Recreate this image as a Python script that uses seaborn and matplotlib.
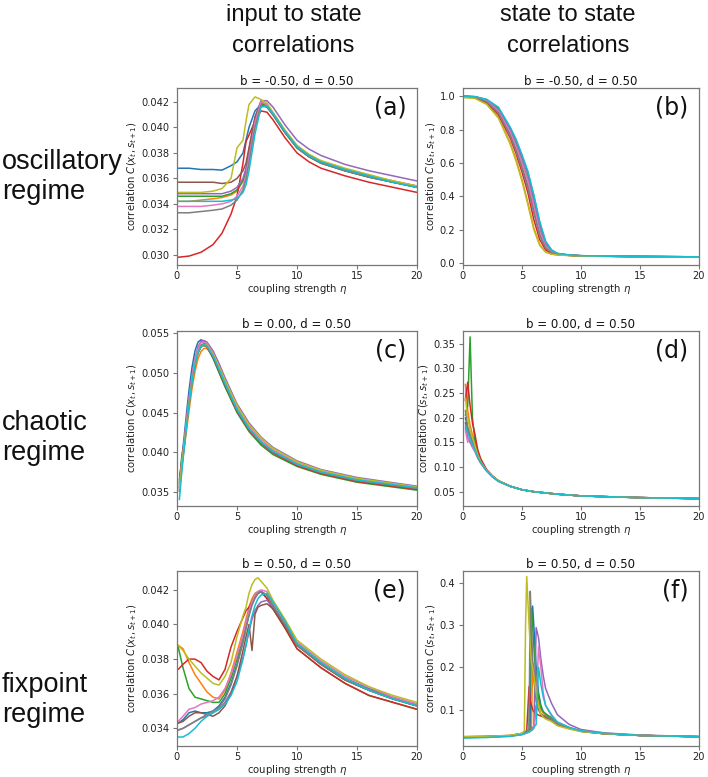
import numpy as np
import pandas as pd
import matplotlib
matplotlib.use("Agg")
import matplotlib.pyplot as plt
from matplotlib.ticker import FormatStrFormatter, FixedLocator
import seaborn as sns

# ---------------- data ----------------
runs = ["r0", "r1", "r2", "r3", "r4", "r5", "r6", "r7", "r8", "r9"]
colors = ["#1f77b4", "#ff7f0e", "#2ca02c", "#d62728", "#9467bd",
          "#8c564b", "#e377c2", "#7f7f7f", "#bcbd22", "#17becf"]

# (a) oscillatory, input to state
eta_a = [0, 1, 2, 3, 3.75, 4.5, 5, 5.5, 5.75, 6, 6.5, 7, 7.5, 8, 9, 10, 11, 12, 14, 16, 18, 20]
curves_a = [
    [0.0368, 0.0368, 0.0367, 0.0367, 0.03665, 0.0370, 0.0373, 0.0380, 0.0390, 0.0400, 0.0413, 0.0418, 0.0416, 0.0410, 0.0396, 0.0384, 0.0377, 0.0372, 0.0366, 0.0361, 0.0357, 0.0353],
    [0.0342, 0.0342, 0.0343, 0.0344, 0.0345, 0.0347, 0.0350, 0.0358, 0.0366, 0.0380, 0.0406, 0.0419, 0.0417, 0.0411, 0.0397, 0.0385, 0.0378, 0.0373, 0.0367, 0.0362, 0.0358, 0.0354],
    [0.0346, 0.0346, 0.0346, 0.0346, 0.0346, 0.0348, 0.0351, 0.0358, 0.0365, 0.0378, 0.0404, 0.0419, 0.0417, 0.0410, 0.0396, 0.0384, 0.0377, 0.0372, 0.0366, 0.0361, 0.0357, 0.0353],
    [0.0298, 0.0299, 0.0302, 0.0308, 0.0317, 0.0332, 0.0346, 0.0372, 0.0389, 0.0394, 0.0405, 0.0413, 0.0412, 0.0406, 0.0392, 0.0380, 0.0373, 0.0368, 0.0362, 0.0357, 0.0353, 0.0349],
    [0.0348, 0.0348, 0.0348, 0.0348, 0.0348, 0.0350, 0.0353, 0.0360, 0.0368, 0.0382, 0.0408, 0.0421, 0.0421, 0.0416, 0.0402, 0.0390, 0.0383, 0.0378, 0.0371, 0.0366, 0.0362, 0.0358],
    [0.0357, 0.0357, 0.0357, 0.0357, 0.0356, 0.0357, 0.0360, 0.0366, 0.0372, 0.0384, 0.0408, 0.0420, 0.0418, 0.0411, 0.0397, 0.0385, 0.0378, 0.0373, 0.0367, 0.0362, 0.0357, 0.0354],
    [0.0338, 0.0338, 0.0338, 0.0339, 0.0340, 0.0342, 0.0346, 0.0354, 0.0362, 0.0376, 0.0404, 0.0420, 0.0418, 0.0411, 0.0397, 0.0385, 0.0378, 0.0373, 0.0367, 0.0362, 0.0358, 0.0354],
    [0.0333, 0.0333, 0.0334, 0.0335, 0.0336, 0.0339, 0.0343, 0.0351, 0.0359, 0.0372, 0.0400, 0.0417, 0.0416, 0.0410, 0.0396, 0.0384, 0.0377, 0.0372, 0.0366, 0.0361, 0.0357, 0.0353],
    [0.0349, 0.0349, 0.0349, 0.0350, 0.0352, 0.0360, 0.0384, 0.0390, 0.0405, 0.0418, 0.0424, 0.0422, 0.0419, 0.0412, 0.0398, 0.0386, 0.0379, 0.0374, 0.0368, 0.0363, 0.0358, 0.0354],
    [0.0342, 0.0342, 0.0342, 0.0342, 0.0342, 0.0343, 0.0344, 0.0349, 0.0355, 0.0366, 0.0395, 0.0416, 0.0417, 0.0411, 0.0397, 0.0385, 0.0378, 0.0373, 0.0367, 0.0362, 0.0357, 0.0353],
]

# (b) oscillatory, state to state
eta_b = [0, 1, 2, 3, 4, 4.5, 5, 5.5, 6, 6.5, 7, 7.5, 8, 9, 10, 12, 15, 20]
curves_b = [
    [1.0, 0.998, 0.980, 0.930, 0.810, 0.735, 0.640, 0.540, 0.400, 0.240, 0.125, 0.076, 0.056, 0.047, 0.043, 0.040, 0.038, 0.036],
    [0.995, 0.990, 0.955, 0.875, 0.720, 0.620, 0.500, 0.360, 0.210, 0.110, 0.066, 0.053, 0.048, 0.044, 0.041, 0.039, 0.037, 0.035],
    [1.0, 0.997, 0.975, 0.915, 0.790, 0.705, 0.605, 0.500, 0.350, 0.200, 0.105, 0.068, 0.053, 0.046, 0.042, 0.040, 0.038, 0.036],
    [0.998, 0.993, 0.963, 0.890, 0.750, 0.655, 0.545, 0.420, 0.260, 0.140, 0.078, 0.058, 0.050, 0.045, 0.042, 0.040, 0.037, 0.036],
    [1.0, 0.998, 0.978, 0.925, 0.800, 0.725, 0.630, 0.530, 0.385, 0.230, 0.120, 0.074, 0.055, 0.047, 0.043, 0.040, 0.038, 0.036],
    [1.0, 0.996, 0.970, 0.905, 0.770, 0.680, 0.575, 0.460, 0.310, 0.170, 0.090, 0.062, 0.051, 0.045, 0.042, 0.040, 0.038, 0.036],
    [1.0, 0.997, 0.974, 0.912, 0.785, 0.698, 0.598, 0.490, 0.340, 0.190, 0.100, 0.066, 0.052, 0.046, 0.042, 0.040, 0.038, 0.036],
    [1.0, 0.996, 0.968, 0.900, 0.762, 0.670, 0.565, 0.450, 0.300, 0.165, 0.088, 0.061, 0.051, 0.045, 0.042, 0.040, 0.038, 0.036],
    [0.993, 0.988, 0.952, 0.870, 0.712, 0.610, 0.490, 0.350, 0.200, 0.105, 0.064, 0.052, 0.047, 0.044, 0.041, 0.039, 0.037, 0.035],
    [1.0, 0.998, 0.982, 0.935, 0.815, 0.742, 0.650, 0.550, 0.410, 0.250, 0.130, 0.078, 0.057, 0.047, 0.043, 0.040, 0.038, 0.036],
]

# (c) chaotic, input to state
eta_c = [0.2, 0.4, 0.6, 0.8, 1.0, 1.25, 1.5, 1.75, 2.0, 2.25, 2.5, 3, 3.5, 4, 5, 6, 7, 8, 10, 12, 15, 20]
curves_c = [
    [0.0360, 0.0392, 0.0420, 0.0450, 0.0478, 0.0507, 0.0528, 0.0539, 0.0542, 0.0540, 0.0534, 0.0519, 0.0501, 0.0483, 0.0451, 0.0428, 0.0412, 0.0400, 0.0384, 0.0374, 0.0364, 0.0354],
    [0.0358, 0.0383, 0.0405, 0.0428, 0.0452, 0.0480, 0.0502, 0.0518, 0.0527, 0.0531, 0.0531, 0.0521, 0.0504, 0.0486, 0.0453, 0.0429, 0.0412, 0.0400, 0.0384, 0.0374, 0.0364, 0.0354],
    [0.0362, 0.0395, 0.0412, 0.0436, 0.0460, 0.0488, 0.0510, 0.0525, 0.0533, 0.0535, 0.0533, 0.0519, 0.0501, 0.0483, 0.0450, 0.0426, 0.0409, 0.0397, 0.0382, 0.0372, 0.0362, 0.0352],
    [0.0365, 0.0388, 0.0412, 0.0440, 0.0465, 0.0492, 0.0513, 0.0527, 0.0533, 0.0535, 0.0533, 0.0520, 0.0503, 0.0485, 0.0452, 0.0428, 0.0411, 0.0399, 0.0383, 0.0373, 0.0363, 0.0353],
    [0.0352, 0.0384, 0.0411, 0.0440, 0.0467, 0.0496, 0.0519, 0.0533, 0.0540, 0.0541, 0.0539, 0.0528, 0.0512, 0.0494, 0.0461, 0.0437, 0.0419, 0.0406, 0.0389, 0.0378, 0.0368, 0.0357],
    [0.0355, 0.0385, 0.0410, 0.0437, 0.0462, 0.0490, 0.0512, 0.0527, 0.0535, 0.0537, 0.0535, 0.0522, 0.0505, 0.0487, 0.0454, 0.0430, 0.0413, 0.0401, 0.0385, 0.0375, 0.0365, 0.0355],
    [0.0356, 0.0387, 0.0413, 0.0441, 0.0467, 0.0495, 0.0517, 0.0531, 0.0538, 0.0539, 0.0537, 0.0525, 0.0508, 0.0490, 0.0457, 0.0433, 0.0416, 0.0403, 0.0387, 0.0377, 0.0366, 0.0356],
    [0.0350, 0.0380, 0.0407, 0.0435, 0.0460, 0.0488, 0.0510, 0.0525, 0.0533, 0.0535, 0.0533, 0.0521, 0.0504, 0.0486, 0.0453, 0.0429, 0.0412, 0.0400, 0.0384, 0.0374, 0.0364, 0.0354],
    [0.0354, 0.0384, 0.0409, 0.0436, 0.0461, 0.0489, 0.0511, 0.0526, 0.0534, 0.0536, 0.0535, 0.0524, 0.0508, 0.0491, 0.0459, 0.0435, 0.0418, 0.0405, 0.0388, 0.0377, 0.0367, 0.0356],
    [0.0340, 0.0375, 0.0405, 0.0434, 0.0460, 0.0489, 0.0511, 0.0526, 0.0534, 0.0536, 0.0534, 0.0522, 0.0505, 0.0487, 0.0454, 0.0430, 0.0413, 0.0401, 0.0385, 0.0375, 0.0365, 0.0355],
]

# (d) chaotic, state to state
eta_d = [0.2, 0.4, 0.6, 0.8, 1.0, 1.25, 1.5, 2, 2.5, 3, 4, 5, 6, 8, 10, 12, 15, 20]
curves_d = [
    [0.200, 0.180, 0.165, 0.152, 0.140, 0.124, 0.111, 0.093, 0.081, 0.072, 0.061, 0.054, 0.050, 0.045, 0.0415, 0.040, 0.038, 0.036],
    [0.268, 0.215, 0.185, 0.165, 0.150, 0.128, 0.113, 0.094, 0.081, 0.072, 0.061, 0.054, 0.050, 0.045, 0.0415, 0.040, 0.038, 0.036],
    [0.205, 0.225, 0.364, 0.200, 0.155, 0.128, 0.112, 0.093, 0.081, 0.072, 0.061, 0.054, 0.050, 0.045, 0.0415, 0.040, 0.038, 0.036],
    [0.235, 0.272, 0.225, 0.190, 0.168, 0.135, 0.117, 0.095, 0.082, 0.072, 0.061, 0.054, 0.050, 0.045, 0.0415, 0.040, 0.038, 0.036],
    [0.180, 0.160, 0.150, 0.140, 0.132, 0.118, 0.108, 0.092, 0.080, 0.071, 0.061, 0.054, 0.050, 0.045, 0.0415, 0.040, 0.038, 0.036],
    [0.190, 0.175, 0.160, 0.150, 0.138, 0.122, 0.110, 0.093, 0.081, 0.072, 0.061, 0.054, 0.050, 0.045, 0.0415, 0.040, 0.038, 0.036],
    [0.175, 0.150, 0.162, 0.142, 0.133, 0.119, 0.108, 0.092, 0.080, 0.071, 0.061, 0.054, 0.050, 0.045, 0.0415, 0.040, 0.038, 0.036],
    [0.215, 0.180, 0.165, 0.152, 0.140, 0.123, 0.110, 0.093, 0.081, 0.072, 0.061, 0.054, 0.050, 0.045, 0.0415, 0.040, 0.038, 0.036],
    [0.240, 0.200, 0.175, 0.160, 0.145, 0.125, 0.111, 0.093, 0.081, 0.072, 0.061, 0.054, 0.050, 0.045, 0.0415, 0.040, 0.038, 0.036],
    [0.185, 0.170, 0.157, 0.146, 0.136, 0.120, 0.109, 0.092, 0.080, 0.071, 0.061, 0.054, 0.050, 0.045, 0.0415, 0.040, 0.038, 0.036],
]

# (e) fixpoint, input to state
eta_e = [0.1, 0.5, 1, 1.5, 2, 2.5, 3, 3.5, 4, 4.5, 5, 5.5, 5.75, 6, 6.25, 6.5, 6.75, 7,
         7.5, 8, 9, 10, 12, 14, 16, 18, 20]
curves_e = [
    [0.0343, 0.0345, 0.0349, 0.0350, 0.0349, 0.0349, 0.0350, 0.0353, 0.0358, 0.0366, 0.0377, 0.0390, 0.0398, 0.0406, 0.0412, 0.0416, 0.0418, 0.0419, 0.0417, 0.0411, 0.0400, 0.0388, 0.0377, 0.0368, 0.0362, 0.0357, 0.0353],
    [0.0388, 0.0386, 0.0378, 0.0371, 0.0366, 0.0361, 0.0358, 0.0357, 0.0362, 0.0372, 0.0384, 0.0396, 0.0403, 0.0410, 0.0415, 0.0418, 0.0419, 0.0419, 0.0417, 0.0411, 0.0400, 0.0388, 0.0377, 0.0368, 0.0362, 0.0357, 0.0353],
    [0.0387, 0.0375, 0.0363, 0.0358, 0.0357, 0.0356, 0.0355, 0.0355, 0.0360, 0.0369, 0.0380, 0.0392, 0.0400, 0.0408, 0.0413, 0.0417, 0.0419, 0.0419, 0.0415, 0.0409, 0.0398, 0.0386, 0.0375, 0.0366, 0.0359, 0.0355, 0.0351],
    [0.0374, 0.0377, 0.0380, 0.0380, 0.0378, 0.0373, 0.0370, 0.0368, 0.0374, 0.0387, 0.0396, 0.0404, 0.0408, 0.0410, 0.0413, 0.0416, 0.0418, 0.0419, 0.0415, 0.0409, 0.0398, 0.0386, 0.0375, 0.0366, 0.0359, 0.0355, 0.0351],
    [0.0339, 0.0340, 0.0342, 0.0344, 0.0346, 0.0347, 0.0349, 0.0351, 0.0355, 0.0361, 0.0370, 0.0381, 0.0388, 0.0396, 0.0403, 0.0408, 0.0411, 0.0413, 0.0414, 0.0410, 0.0400, 0.0389, 0.0378, 0.0369, 0.0363, 0.0358, 0.0354],
    [0.0343, 0.0344, 0.0347, 0.0349, 0.0349, 0.0348, 0.0347, 0.0349, 0.0353, 0.0360, 0.0370, 0.0385, 0.0393, 0.0400, 0.0385, 0.0406, 0.0410, 0.0411, 0.0412, 0.0409, 0.0399, 0.0388, 0.0377, 0.0368, 0.0362, 0.0357, 0.0353],
    [0.0344, 0.0347, 0.0351, 0.0352, 0.0354, 0.0355, 0.0356, 0.0358, 0.0363, 0.0371, 0.0382, 0.0394, 0.0401, 0.0408, 0.0413, 0.0417, 0.0419, 0.0420, 0.0419, 0.0413, 0.0402, 0.0390, 0.0379, 0.0370, 0.0364, 0.0358, 0.0354],
    [0.0339, 0.0340, 0.0342, 0.0344, 0.0346, 0.0348, 0.0350, 0.0352, 0.0357, 0.0365, 0.0376, 0.0390, 0.0398, 0.0405, 0.0411, 0.0415, 0.0418, 0.0419, 0.0417, 0.0411, 0.0400, 0.0388, 0.0377, 0.0368, 0.0362, 0.0357, 0.0353],
    [0.0388, 0.0385, 0.0380, 0.0376, 0.0372, 0.0369, 0.0366, 0.0365, 0.0370, 0.0378, 0.0393, 0.0405, 0.0410, 0.0418, 0.0423, 0.0426, 0.0427, 0.0425, 0.0421, 0.0414, 0.0403, 0.0391, 0.0380, 0.0371, 0.0364, 0.0359, 0.0355],
    [0.0335, 0.0335, 0.0337, 0.0340, 0.0344, 0.0347, 0.0349, 0.0351, 0.0354, 0.0359, 0.0367, 0.0380, 0.0388, 0.0397, 0.0405, 0.0411, 0.0415, 0.0417, 0.0418, 0.0413, 0.0402, 0.0389, 0.0378, 0.0369, 0.0362, 0.0357, 0.0353],
]

# (f) fixpoint, state to state
eta_f = [0, 2, 4, 5, 5.2, 5.3, 5.4, 5.6, 5.7, 5.8, 5.9, 6.0, 6.2, 6.4, 6.6, 6.8, 7,
         7.5, 8, 9, 10, 12, 15, 20]
curves_f = [
    [0.034, 0.035, 0.038, 0.042, 0.045, 0.046, 0.047, 0.050, 0.055, 0.300, 0.345, 0.300, 0.200, 0.140, 0.110, 0.095, 0.090, 0.080, 0.067, 0.057, 0.049, 0.043, 0.039, 0.036],
    [0.035, 0.036, 0.038, 0.043, 0.045, 0.046, 0.048, 0.050, 0.053, 0.057, 0.210, 0.200, 0.160, 0.120, 0.100, 0.092, 0.088, 0.078, 0.066, 0.056, 0.049, 0.043, 0.039, 0.036],
    [0.035, 0.036, 0.038, 0.043, 0.045, 0.047, 0.049, 0.052, 0.250, 0.340, 0.300, 0.250, 0.170, 0.130, 0.105, 0.095, 0.090, 0.080, 0.067, 0.057, 0.049, 0.043, 0.039, 0.036],
    [0.036, 0.037, 0.039, 0.044, 0.046, 0.048, 0.050, 0.155, 0.120, 0.110, 0.100, 0.095, 0.090, 0.087, 0.085, 0.083, 0.082, 0.076, 0.065, 0.056, 0.049, 0.043, 0.039, 0.036],
    [0.034, 0.035, 0.037, 0.041, 0.043, 0.044, 0.045, 0.047, 0.049, 0.051, 0.053, 0.056, 0.294, 0.270, 0.220, 0.180, 0.150, 0.115, 0.088, 0.065, 0.053, 0.045, 0.040, 0.036],
    [0.035, 0.036, 0.038, 0.043, 0.045, 0.046, 0.048, 0.050, 0.052, 0.055, 0.058, 0.060, 0.110, 0.100, 0.090, 0.085, 0.082, 0.076, 0.065, 0.056, 0.049, 0.043, 0.039, 0.036],
    [0.035, 0.036, 0.038, 0.042, 0.044, 0.045, 0.046, 0.048, 0.050, 0.052, 0.056, 0.062, 0.100, 0.250, 0.200, 0.140, 0.110, 0.085, 0.070, 0.058, 0.050, 0.044, 0.039, 0.036],
    [0.035, 0.036, 0.038, 0.043, 0.046, 0.048, 0.050, 0.052, 0.380, 0.300, 0.220, 0.170, 0.120, 0.100, 0.090, 0.087, 0.085, 0.077, 0.066, 0.056, 0.049, 0.043, 0.039, 0.036],
    [0.036, 0.037, 0.039, 0.044, 0.050, 0.300, 0.415, 0.300, 0.250, 0.210, 0.200, 0.180, 0.140, 0.110, 0.090, 0.082, 0.078, 0.072, 0.062, 0.054, 0.048, 0.043, 0.039, 0.036],
    [0.033, 0.034, 0.037, 0.041, 0.043, 0.044, 0.045, 0.047, 0.049, 0.051, 0.053, 0.058, 0.065, 0.200, 0.160, 0.130, 0.110, 0.088, 0.071, 0.058, 0.050, 0.044, 0.039, 0.036],
]

titles = ["b = -0.50, d = 0.50", "b = -0.50, d = 0.50",
          "b = 0.00, d = 0.50", "b = 0.00, d = 0.50",
          "b = 0.50, d = 0.50", "b = 0.50, d = 0.50"]
panel_tags = ["(a)", "(b)", "(c)", "(d)", "(e)", "(f)"]
xlabel = "coupling strength $\\eta$"
ylabel_in = "correlation $C(x_t, s_{t+1})$"
ylabel_ss = "correlation $C(s_t, s_{t+1})$"
col_headers = [["input to state", "correlations"], ["state to state", "correlations"]]
row_labels = ["oscillatory\nregime", "chaotic\nregime", "fixpoint\nregime"]

yticks_a = [0.030, 0.032, 0.034, 0.036, 0.038, 0.040, 0.042]
yticks_b = [0.0, 0.2, 0.4, 0.6, 0.8, 1.0]
yticks_c = [0.035, 0.040, 0.045, 0.050, 0.055]
yticks_d = [0.05, 0.10, 0.15, 0.20, 0.25, 0.30, 0.35]
yticks_e = [0.034, 0.036, 0.038, 0.040, 0.042]
yticks_f = [0.1, 0.2, 0.3, 0.4]
xticks = [0, 5, 10, 15, 20]

# ---------------- style ----------------
sns.set_theme(style="white")
spine_c = "#777777"
plt.rcParams.update({
    "font.family": ["DejaVu Sans"],
    "axes.edgecolor": spine_c,
    "axes.linewidth": 0.9,
    "xtick.bottom": True, "ytick.left": True,
    "xtick.direction": "out", "ytick.direction": "out",
    "xtick.major.size": 3, "ytick.major.size": 3,
    "xtick.major.width": 0.8, "ytick.major.width": 0.8,
    "xtick.color": spine_c, "ytick.color": spine_c,
    "xtick.labelcolor": "#222222", "ytick.labelcolor": "#222222",
    "xtick.labelsize": 7.1, "ytick.labelsize": 7.1,
    "xtick.major.pad": 1.5, "ytick.major.pad": 2.5,
    "axes.labelsize": 7.3, "axes.titlesize": 8.5,
    "axes.labelcolor": "#222222", "text.color": "#111111",
    "mathtext.fontset": "dejavusans",
})

fig = plt.figure(figsize=(7.08, 7.77), dpi=100)
W, H = 708.0, 777.0

def rect(x0, x1, top, bot):
    return [x0 / W, 1 - bot / H, (x1 - x0) / W, (bot - top) / H]

left_cols = (177, 417)
right_cols = (463, 699)
rows = [(88, 265), (331, 506), (571, 746)]

panels = [
    (eta_a, curves_a, yticks_a, "%.3f", (0.0292, 0.0431), ylabel_in),
    (eta_b, curves_b, yticks_b, "%.1f", (-0.013, 1.05), ylabel_ss),
    (eta_c, curves_c, yticks_c, "%.3f", (0.0332, 0.0553), ylabel_in),
    (eta_d, curves_d, yticks_d, "%.2f", (0.021, 0.376), ylabel_ss),
    (eta_e, curves_e, yticks_e, "%.3f", (0.03298, 0.04309), ylabel_in),
    (eta_f, curves_f, yticks_f, "%.1f", (0.014, 0.428), ylabel_ss),
]

for i, (eta, curves, yt, fmt, ylim, ylab) in enumerate(panels):
    r, c = divmod(i, 2)
    cols = left_cols if c == 0 else right_cols
    ax = fig.add_axes(rect(cols[0], cols[1], rows[r][0], rows[r][1]))
    for cv in curves:
        assert len(cv) == len(eta)
    df = pd.DataFrame({
        "eta": np.tile(eta, len(curves)),
        "val": np.concatenate([np.asarray(cv, float) for cv in curves]),
        "run": np.repeat(runs, len(eta)),
    })
    sns.lineplot(data=df, x="eta", y="val", hue="run", palette=colors,
                 hue_order=runs, estimator=None, sort=True, legend=False,
                 linewidth=1.1, ax=ax)
    ax.set_xlim(0, 20)
    ax.set_ylim(*ylim)
    ax.xaxis.set_major_locator(FixedLocator(xticks))
    ax.yaxis.set_major_locator(FixedLocator(yt))
    ax.yaxis.set_major_formatter(FormatStrFormatter(fmt))
    ax.set_xlabel(xlabel, labelpad=0.5)
    ax.set_ylabel(ylab, labelpad=1.5)
    ax.set_title(titles[i], pad=2)
    ax.text(0.955, 0.955, panel_tags[i], transform=ax.transAxes,
            ha="right", va="top", fontsize=17, color="#111111")

# column headers (one line each, placed on their baselines)
hdr_font = ["Liberation Sans", "DejaVu Sans"]
for xc, lines in zip([293.5, 568], col_headers):
    for line, yb in zip(lines, [21, 52]):
        fig.text(xc / W, 1 - yb / H, line, ha="center", va="baseline",
                 fontsize=17, family=hdr_font)

# row labels
row_font = ["Liberation Sans", "DejaVu Sans"]
for lab, yc in zip(row_labels, [177, 438, 700]):
    fig.text(2 / W, 1 - yc / H, lab, ha="left", va="center",
             fontsize=19.5, family=row_font, linespacing=1.2)

fig.savefig("out.png", dpi=100)
